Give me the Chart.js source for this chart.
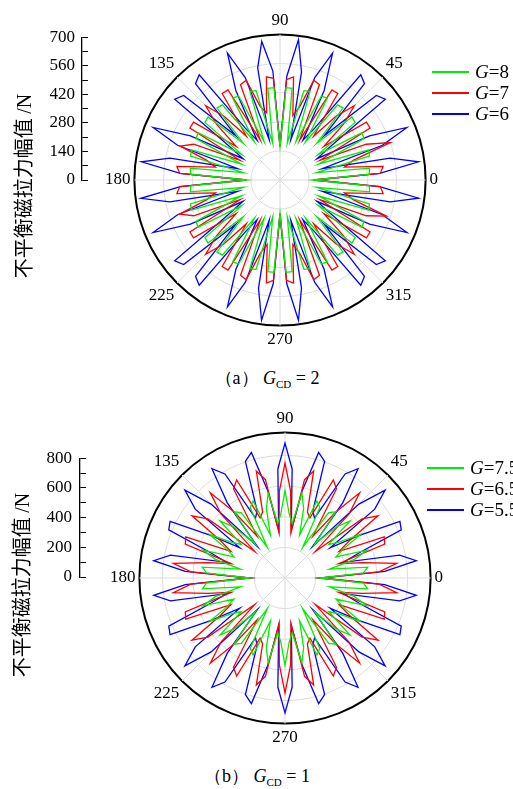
<!DOCTYPE html>
<html>
<head>
<meta charset="utf-8">
<script src="https://cdn.jsdelivr.net/npm/chart.js@4.4.0/dist/chart.umd.min.js"></script>
<style>
  body { margin: 0; width: 513px; height: 789px; background: #fff; position: relative; overflow: hidden; font-family: "Liberation Serif", serif; }
  canvas { position: absolute; }
  .ytitle { position: absolute; font-family: "Noto Sans CJK SC", sans-serif; font-size: 20px; white-space: nowrap;
            transform: translate(-50%, -50%) rotate(-90deg); color: #000; }
  .ytitle span { font-family: "Liberation Serif", serif; }
  .leg { position: absolute; font-size: 19px; line-height: 20px; white-space: nowrap; color: #000; }
  .leg b { position: absolute; height: 2px; width: 37px; }
  .leg span { position: absolute; }
  .cap { position: absolute; font-size: 18px; white-space: nowrap; transform: translate(-50%, -50%); }
  .cap sub { font-size: 11px; }
</style>
</head>
<body>
<canvas id="axisA" width="62" height="180" style="left:30px;top:20px"></canvas>
<canvas id="polarA" width="420" height="340" style="left:70px;top:10px"></canvas>
<canvas id="axisB" width="62" height="157" style="left:28px;top:440px"></canvas>
<canvas id="polarB" width="420" height="340" style="left:75px;top:408px"></canvas>

<div class="ytitle" style="left:22px;top:186px">不平衡磁拉力幅值 <span>/N</span></div>
<div class="ytitle" style="left:20px;top:585px">不平衡磁拉力幅值 <span>/N</span></div>
<div id="legA"></div>
<div id="legB"></div>
<div class="cap" style="left:267px;top:378px">（a） <i>G</i><sub>CD</sub> = 2</div>
<div class="cap" style="left:257px;top:776px">（b） <i>G</i><sub>CD</sub> = 1</div>

<script>
// samples every 3.75 deg, index i = angle 3.75*i (counter-clockwise from 0)
const sampleAngles = Array.from({length: 96}, (_, i) => i * 3.75);
const polarTicks = [0, 45, 90, 135, 180, 225, 270, 315];

// (a) G_CD = 2
const namesA = ['G=8', 'G=7', 'G=6'];
const g8 = [
  160, 430, 435, 180, 445, 450, 200, 450, 455, 220, 455, 460, 250, 460, 455, 220, 455, 450, 200, 450, 445, 180, 445, 445,
  160, 445, 445, 180, 445, 450, 200, 450, 455, 220, 455, 460, 250, 460, 455, 220, 455, 450, 200, 450, 445, 180, 435, 430,
  160, 430, 435, 180, 445, 450, 200, 450, 455, 220, 455, 460, 250, 460, 455, 220, 455, 450, 200, 450, 445, 180, 445, 445,
  160, 445, 445, 180, 445, 450, 200, 450, 455, 220, 455, 460, 250, 460, 455, 220, 455, 450, 200, 450, 445, 180, 435, 430
];
const g7 = [
  160, 483, 500, 316, 364, 560, 449, 214, 500, 500, 265, 405, 505, 408, 265, 500, 500, 214, 496, 506, 364, 316, 500, 483,
  160, 490, 500, 330, 364, 506, 496, 214, 500, 500, 265, 408, 505, 405, 265, 500, 500, 214, 449, 507, 364, 316, 500, 483,
  160, 483, 500, 316, 364, 510, 449, 214, 500, 500, 265, 405, 505, 408, 265, 500, 500, 214, 496, 506, 364, 316, 500, 483,
  160, 483, 500, 316, 364, 506, 496, 214, 500, 500, 265, 408, 505, 405, 265, 500, 500, 214, 449, 540, 364, 316, 500, 483
];
const g6 = [
  165, 480, 672, 540, 210, 520, 660, 480, 205, 300, 638, 616, 300, 616, 638, 300, 220, 480, 660, 520, 200, 530, 680, 500,
  165, 525, 672, 550, 200, 520, 660, 480, 220, 300, 638, 616, 300, 616, 638, 300, 205, 480, 660, 520, 210, 540, 672, 480,
  165, 480, 675, 540, 210, 520, 660, 480, 205, 300, 638, 616, 300, 616, 638, 300, 220, 480, 660, 520, 200, 530, 680, 500,
  165, 500, 680, 530, 200, 520, 660, 480, 220, 300, 638, 616, 300, 616, 638, 300, 205, 480, 660, 520, 210, 540, 672, 480
];
const axisTicksA = [0, 140, 280, 420, 560, 700];

// (b) G_CD = 1
const namesB = ['G=7.5', 'G=6.5', 'G=5.5'];
const g75 = [
  230, 513, 544, 296, 470, 564, 360, 419, 570, 419, 360, 564, 470, 296, 544, 513,
  230, 513, 544, 296, 470, 564, 360, 419, 570, 419, 360, 564, 470, 296, 544, 513,
  230, 513, 544, 296, 470, 564, 360, 419, 570, 419, 360, 564, 470, 296, 544, 513,
  230, 513, 544, 296, 470, 564, 360, 419, 570, 419, 360, 564, 470, 296, 544, 513,
  230, 513, 544, 296, 470, 564, 360, 419, 570, 419, 360, 564, 470, 296, 544, 513,
  230, 513, 544, 296, 470, 564, 360, 419, 570, 419, 360, 564, 470, 296, 544, 513
];
const g65 = [
  230, 615, 735, 514, 362, 687, 701, 394, 485, 730, 634, 263, 591, 739, 541, 329, 672, 713, 425, 454, 723, 654, 297, 566,
  750, 566, 297, 654, 723, 454, 425, 713, 672, 329, 541, 739, 591, 263, 634, 730, 485, 394, 701, 687, 362, 514, 735, 615,
  230, 615, 735, 514, 362, 687, 701, 394, 485, 730, 634, 263, 591, 739, 541, 329, 672, 713, 425, 454, 723, 654, 297, 566,
  750, 566, 297, 654, 723, 454, 425, 713, 672, 329, 541, 739, 591, 263, 634, 730, 485, 394, 701, 687, 362, 514, 735, 615
];
const g55 = [
  230, 652, 864, 762, 396, 512, 821, 836, 550, 355, 738, 869, 682, 272, 620, 858, 784, 435, 475, 804, 848, 586, 314, 713,
  880, 713, 314, 586, 848, 804, 475, 435, 784, 858, 620, 272, 682, 869, 738, 355, 550, 836, 821, 512, 396, 762, 864, 652,
  230, 652, 864, 762, 396, 512, 821, 836, 550, 355, 738, 869, 682, 272, 620, 858, 784, 435, 475, 804, 848, 586, 314, 713,
  880, 713, 314, 586, 848, 804, 475, 435, 784, 858, 620, 272, 682, 869, 738, 355, 550, 836, 821, 512, 396, 762, 864, 652
];
const axisTicksB = [0, 200, 400, 600, 800];

const colors = ['#00ee00', '#ff0000', '#0000ff'];

// radar goes clockwise from startAngle, so read the arrays backwards
const flip = arr => arr.map((_, j) => arr[(arr.length - j) % arr.length]);

function polar(id, max, step, names, series) {
  new Chart(document.getElementById(id), {
    type: 'radar',
    data: {
      labels: flip(sampleAngles),
      datasets: series.map((s, i) => ({
        label: names[i],
        data: flip(s),
        borderColor: colors[i],
        borderWidth: 1.3,
        pointRadius: 0,
        fill: false,
        tension: 0
      }))
    },
    options: {
      responsive: false,
      animation: false,
      plugins: { legend: { display: false }, tooltip: { enabled: false } },
      scales: {
        r: {
          min: 0, max: max, startAngle: 90,
          ticks: { display: false, stepSize: step },
          grid: {
            circular: true,
            color: c => c.tick && c.tick.value === max ? '#000' : '#dcdcdc',
            lineWidth: c => c.tick && c.tick.value === max ? 2 : 1
          },
          angleLines: { color: c => c.index % 12 === 0 ? '#dcdcdc' : 'rgba(0,0,0,0)' },
          pointLabels: {
            padding: 4, color: '#000',
            font: { family: 'Liberation Serif', size: 17 },
            callback: l => polarTicks.includes(l) ? String(l) : ''
          }
        }
      }
    }
  });
}

function sideAxis(id, max, step, shown, pad) {
  new Chart(document.getElementById(id), {
    type: 'line',
    data: { labels: [''], datasets: [] },
    options: {
      responsive: false,
      animation: false,
      layout: { padding: { top: 15, bottom: 20, left: 4, right: 4 } },
      plugins: { legend: { display: false }, tooltip: { enabled: false } },
      scales: {
        x: { display: false },
        y: {
          min: 0, max: max,
          afterFit: s => { s.width = 48; },
          border: { display: true, color: '#000', width: 1.3 },
          grid: { drawTicks: false, color: '#000', lineWidth: 1 },
          ticks: {
            stepSize: step, autoSkip: false, padding: pad, color: '#000',
            font: { family: 'Liberation Serif', size: 17 },
            callback: v => shown.includes(v) ? String(v) : ''
          }
        }
      }
    }
  });
}

function legend(id, names, x, y0, dy) {
  const el = document.getElementById(id);
  names.forEach((n, i) => {
    const d = document.createElement('div');
    d.className = 'leg';
    d.style.left = x + 'px';
    d.style.top = Math.round(y0 + i * dy - 10) + 'px';
    d.innerHTML = '<b style="top:9px;left:0;background:' + colors[i] + '"></b>' +
      '<span style="left:43px;top:0"><i>G</i>' + n.slice(1) + '</span>';
    el.appendChild(d);
  });
}

polar('polarA', 700, 140, namesA, [g8, g7, g6]);
polar('polarB', 950, 200, namesB, [g75, g65, g55]);
sideAxis('axisA', 700, 70, axisTicksA, 7);
sideAxis('axisB', 800, 100, axisTicksB, 8);
legend('legA', namesA, 432, 72, 21);
legend('legB', namesB, 427, 468, 21);
</script>
</body>
</html>
